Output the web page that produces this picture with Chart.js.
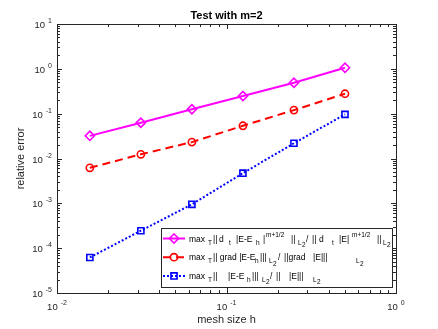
<!DOCTYPE html>
<html>
<head>
<meta charset="utf-8">
<script src="https://cdn.jsdelivr.net/npm/chart.js@4.4.1/dist/chart.umd.min.js"></script>
<style>
  html, body { margin: 0; padding: 0; background: #fff; }
</style>
</head>
<body>
<canvas id="ErrorChart" width="438" height="329"></canvas>
<script>
// mesh sizes h = 1/64 ... 1/2
const meshSizes = [1 / 64, 1 / 32, 1 / 16, 1 / 8, 1 / 4, 1 / 2];
// relative errors
const errDt = [0.032, 0.063, 0.125, 0.247, 0.49, 1.06];
const errGrad = [0.0062, 0.0124, 0.0232, 0.0537, 0.120, 0.278];
const errL2 = [6.2e-5, 2.45e-4, 9.5e-4, 4.7e-3, 0.0219, 0.0964];
// decade tick labels (exponents of 10)
const xTickExps = [-2, -1, 0];
const yTickExps = [-5, -4, -3, -2, -1, 0, 1];

// legend texts: [text, kind, x]  kind: n = normal, b = subscript, p = superscript, bb = sub of sub
const legendTexts = [
    [['max', 'n', 189], ['T', 'b', 208], ['||', 'n', 213], ['d', 'n', 219], ['t', 'b', 229], ['|E-E', 'n', 236],
     ['h', 'b', 256], ['|', 'n', 263], ['m+1/2', 'p', 266], ['||', 'n', 291], ['L', 'b', 298], ['2', 'bb', 302],
     ['/', 'n', 306], ['||', 'n', 312], ['d', 'n', 319], ['t', 'b', 332], ['|E|', 'n', 339], ['m+1/2', 'p', 352],
     ['||', 'n', 377], ['L', 'b', 383], ['2', 'bb', 387]],
    [['max', 'n', 189], ['T', 'b', 208], ['|| grad |E-E', 'n', 213], ['h', 'b', 255], ['|||', 'n', 260],
     ['L', 'b', 269], ['2', 'bb', 273], ['/', 'n', 278], ['||grad', 'n', 284], ['|E|||', 'n', 313],
     ['L', 'b', 356], ['2', 'bb', 360]],
    [['max', 'n', 189], ['T', 'b', 208], ['||', 'n', 213], ['|E-E', 'n', 228], ['h', 'b', 247], ['|||', 'n', 252],
     ['L', 'b', 262], ['2', 'bb', 266], ['/', 'n', 270], ['||', 'n', 276], ['|E|||', 'n', 289],
     ['L', 'b', 313], ['2', 'bb', 317]]
];

const FONT = '"Liberation Sans", Arial, sans-serif';
const AXIS_COLOR = '#262626';

// MATLAB-like box, inward ticks, decade labels and the legend
const matlabAxes = {
    id: 'matlabAxes',
    afterDraw(chart) {
        const ctx = chart.ctx;
        const a = chart.chartArea;
        const xs = chart.scales.x, ys = chart.scales.y;
        ctx.save();
        ctx.strokeStyle = AXIS_COLOR;
        ctx.lineWidth = 1;
        ctx.strokeRect(Math.round(a.left) + 0.5, Math.round(a.top) + 0.5,
            Math.round(a.right - a.left), Math.round(a.bottom - a.top));

        ctx.beginPath();
        for (let d = -2; d < 0; d++) {
            for (let k = 1; k <= 10; k++) {
                const v = k * Math.pow(10, d);
                const px = Math.round(xs.getPixelForValue(v)) + 0.5;
                const len = (k === 1 || k === 10) ? 5 : 3;
                ctx.moveTo(px, a.bottom); ctx.lineTo(px, a.bottom - len);
                ctx.moveTo(px, a.top); ctx.lineTo(px, a.top + len);
            }
        }
        for (let d = -5; d < 1; d++) {
            for (let k = 1; k <= 10; k++) {
                const v = k * Math.pow(10, d);
                const py = Math.round(ys.getPixelForValue(v)) + 0.5;
                const len = (k === 1 || k === 10) ? 5 : 3;
                ctx.moveTo(a.left, py); ctx.lineTo(a.left + len, py);
                ctx.moveTo(a.right, py); ctx.lineTo(a.right - len, py);
            }
        }
        ctx.stroke();

        // tick labels "10" with raised exponent
        ctx.fillStyle = AXIS_COLOR;
        ctx.textBaseline = 'alphabetic';
        xTickExps.forEach(e => {
            const px = xs.getPixelForValue(Math.pow(10, e));
            ctx.font = '9.5px ' + FONT;
            const w1 = ctx.measureText('10').width;
            ctx.font = '7px ' + FONT;
            const w2 = ctx.measureText(String(e)).width;
            const x0 = px - (w1 + 3 + w2) / 2;
            ctx.font = '9.5px ' + FONT;
            ctx.fillText('10', x0, a.bottom + 17);
            ctx.font = '7px ' + FONT;
            ctx.fillText(String(e), x0 + w1 + 3, a.bottom + 12);
        });
        yTickExps.forEach(e => {
            const py = ys.getPixelForValue(Math.pow(10, e));
            ctx.font = '7px ' + FONT;
            const w2 = ctx.measureText(String(e)).width;
            ctx.font = '9.5px ' + FONT;
            const w1 = ctx.measureText('10').width;
            const x0 = a.left - 5 - w2 - 3 - w1;
            ctx.fillText('10', x0, py + 4);
            ctx.font = '7px ' + FONT;
            ctx.fillText(String(e), x0 + w1 + 3, py - 1);
        });

        // legend
        const box = { x: 161, y: 228, w: 231, h: 59 };
        ctx.fillStyle = '#fff';
        ctx.fillRect(box.x, box.y, box.w, box.h);
        ctx.strokeStyle = AXIS_COLOR;
        ctx.lineWidth = 1;
        ctx.strokeRect(box.x + 0.5, box.y + 0.5, box.w, box.h);
        chart.data.datasets.forEach((ds, i) => {
            const cy = box.y + 10.5 + i * 18.7;
            ctx.save();
            ctx.strokeStyle = ds.borderColor;
            ctx.lineWidth = ds.borderWidth;
            ctx.setLineDash(ds.borderDash || []);
            ctx.beginPath();
            ctx.moveTo(box.x + 2, cy);
            ctx.lineTo(box.x + 24, cy);
            ctx.stroke();
            ctx.setLineDash([]);
            ctx.fillStyle = 'rgba(0,0,0,0)';
            ctx.lineWidth = ds.pointBorderWidth;
            Chart.helpers.drawPoint(ctx, {
                pointStyle: ds.pointStyle, radius: ds.pointRadius, rotation: 0,
                borderWidth: ds.pointBorderWidth
            }, box.x + 13, cy);
            ctx.restore();

            ctx.fillStyle = '#000';
            legendTexts[i].forEach(([t, kind, x]) => {
                let size = 8.5, dy = 3;
                if (kind === 'b') { size = 6.5; dy = 6; }
                if (kind === 'bb') { size = 6.5; dy = 8.5; }
                if (kind === 'p') { size = 6.5; dy = -2; }
                ctx.font = size + 'px ' + FONT;
                ctx.fillText(t, x, cy + dy);
            });
        });
        ctx.restore();
    }
};

function series(values, color, dash, style, radius) {
    return {
        data: meshSizes.map((h, i) => ({ x: h, y: values[i] })),
        borderColor: color,
        backgroundColor: 'rgba(0,0,0,0)',
        pointBackgroundColor: 'rgba(0,0,0,0)',
        pointBorderColor: color,
        borderWidth: 2,
        borderDash: dash,
        pointStyle: style,
        pointRadius: radius,
        pointBorderWidth: 1.6,
        fill: false,
        tension: 0
    };
}

const ctx = document.getElementById('ErrorChart');
new Chart(ctx, {
    type: 'line',
    data: {
        datasets: [
            series(errDt, '#ff00ff', [], 'rectRot', 4.6),
            series(errGrad, '#ff0000', [8, 5], 'circle', 3.6),
            series(errL2, '#0000ff', [2, 2], 'rect', 4.3)
        ]
    },
    options: {
        responsive: false,
        animation: false,
        layout: { padding: { top: 0, right: 42, left: 0, bottom: 0 } },
        plugins: {
            legend: { display: false },
            tooltip: { enabled: false },
            title: {
                display: true,
                text: 'Test with m=2',
                fullSize: false,
                color: '#000',
                font: { family: FONT, size: 11, weight: 'bold' },
                padding: { top: 9, bottom: 1.8 }
            }
        },
        scales: {
            x: {
                type: 'logarithmic',
                min: 0.01,
                max: 1,
                grid: { display: false },
                border: { display: false },
                ticks: { display: false },
                title: {
                    display: true, text: 'mesh size h', color: '#262626',
                    font: { family: FONT, size: 11 }, padding: { top: 0, bottom: 2 }
                },
                afterFit(s) { s.height = 36; }
            },
            y: {
                type: 'logarithmic',
                min: 1e-5,
                max: 10,
                grid: { display: false },
                border: { display: false },
                ticks: { display: false },
                title: {
                    display: true, text: 'relative error', color: '#262626',
                    font: { family: FONT, size: 11 }, padding: { top: 14, bottom: 0 }
                },
                afterFit(s) { s.width = 57; }
            }
        }
    },
    plugins: [matlabAxes]
});
</script>
</body>
</html>
